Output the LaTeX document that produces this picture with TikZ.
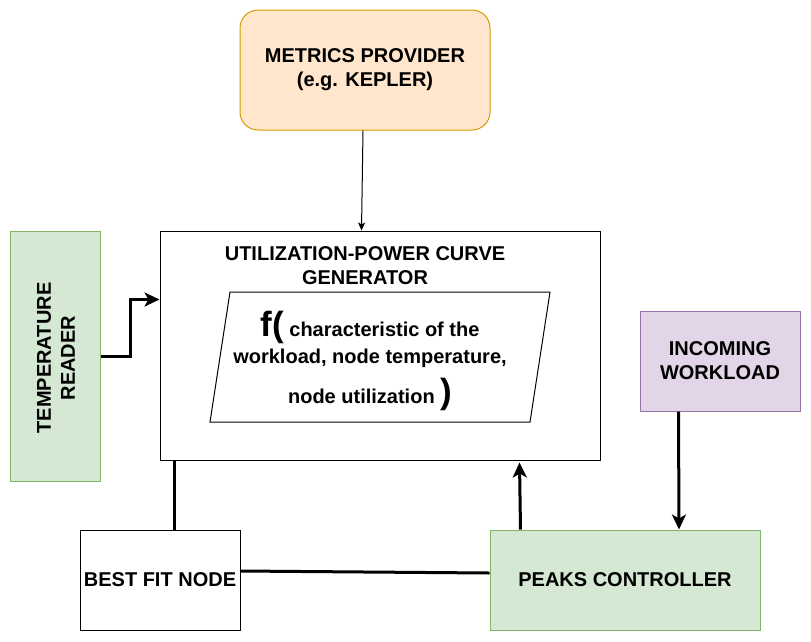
\documentclass[tikz,border=0pt]{standalone}
\usepackage{fontspec}
\setmainfont{Liberation Sans}
\usetikzlibrary{arrows.meta,calc}
\definecolor{orangefill}{HTML}{FFE6CC}
\definecolor{orangeline}{HTML}{D79B00}
\definecolor{greenfill}{HTML}{D5E8D4}
\definecolor{greenline}{HTML}{82B366}
\definecolor{purplefill}{HTML}{E1D5E7}
\definecolor{purpleline}{HTML}{9673A6}
\tikzset{
  block/.style={draw, line width=1pt, inner sep=0pt, align=center, font=\fontsize{20}{24}\selectfont\bfseries},
  thick line/.style={line width=3pt},
  big arrow/.style={thick line, -{Stealth[length=15pt,width=14pt,inset=4pt]}},
  thin arrow/.style={line width=1pt, -{Stealth[length=8pt,width=7pt,inset=2pt]}}
}
\begin{document}
\begin{tikzpicture}[x=1pt, y=-1pt]
  \useasboundingbox (0,0) rectangle (811,641);
  % boxes
  \node[block, rounded corners=18pt, fill=orangefill, draw=orangeline, minimum width=250pt, minimum height=120pt] (metrics) at (365,70) {METRICS PROVIDER\\(e.g. KEPLER)};
  \node[block, minimum width=440pt, minimum height=229pt] (util) at (380,345.5) {};
  \node[font=\fontsize{20}{24}\selectfont\bfseries, align=center] (utiltitle) at (365,266) {UTILIZATION-POWER CURVE\\GENERATOR};
  \draw[line width=1pt] (230,292) coordinate (pa) -- (550,292) coordinate (pb) -- (530,422) coordinate (pc) -- (210,422) coordinate (pd) -- cycle;
  \node[font=\fontsize{20}{27}\selectfont\bfseries, align=center] (formula) at (370,361)
    {{\fontsize{35}{30}\selectfont f(}\ characteristic of the\\workload, node temperature,\\[9pt]node utilization\ {\fontsize{35}{30}\selectfont )}};
  \node[block, fill=greenfill, draw=greenline, minimum width=90pt, minimum height=250pt] (temp) at (55,356) {};
  \node[rotate=90, font=\fontsize{20}{24}\selectfont\bfseries, align=center] (templabel) at (56,358) {TEMPERATURE\\READER};
  \node[block, fill=purplefill, draw=purpleline, minimum width=160pt, minimum height=100pt] (incoming) at (720,361) {INCOMING\\WORKLOAD};
  \node[block, minimum width=160pt, minimum height=100pt] (bestfit) at (160,580) {BEST FIT NODE};
  \node[block, fill=greenfill, draw=greenline, minimum width=270pt, minimum height=100pt] (peaks) at (625,580) {PEAKS CONTROLLER};
  % connectors
  \draw[thin arrow] (metrics.south -| 363,0) -- ($(util.north west)+(202,0)$);
  \draw[big arrow] (temp.east) -- ++(30,0) |- ($(util.north west)+(0,69)$);
  \draw[thick line] ($(bestfit.north west)+(95,0)$) -- ($(util.south west)+(15,0)$);
  \draw[thick line] ($(bestfit.east)+(0,-9)$) -- ($(peaks.west)+(0,-7)$);
  \draw[big arrow] ($(peaks.north west)+(31,0)$) -- ($(util.south west)+(360,2)$);
  \draw[big arrow] ($(incoming.south west)+(39,0)$) -- (peaks.north -| 679,0);
\end{tikzpicture}
\end{document}
